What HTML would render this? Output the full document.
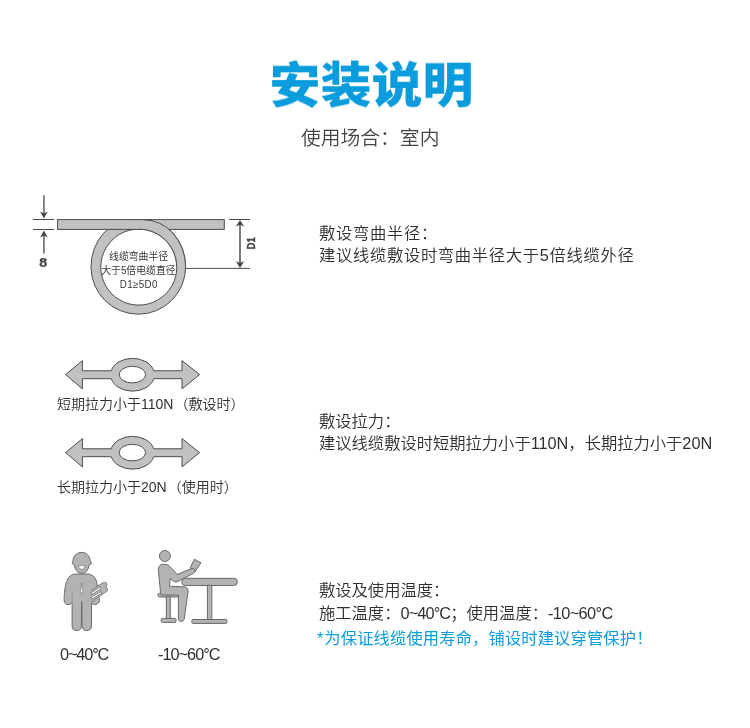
<!DOCTYPE html>
<html lang="zh-CN">
<head>
<meta charset="utf-8">
<title>安装说明</title>
<style>
html,body{margin:0;padding:0;background:#fff;}
body{width:750px;height:728px;position:relative;overflow:hidden;
  font-family:"Liberation Sans","Noto Sans CJK SC",sans-serif;color:#444;}
.abs{position:absolute;white-space:nowrap;will-change:transform;}
#title{left:0;width:742.8px;top:48.8px;text-align:center;font-size:50px;line-height:74px;font-weight:900;color:#0a9cdc;transform:scale(1.019,0.97);transform-origin:371.4px 35px;}
#sub{left:0;width:740.4px;top:122.7px;text-align:center;font-size:19.8px;line-height:30px;font-weight:350;color:#444;}
.blk{left:319px;font-size:16.3px;line-height:21.6px;font-weight:350;color:#303030;}
.lab{font-size:14px;line-height:20px;font-weight:350;color:#303030;}
.blue{color:#0a9cdc;}
svg{position:absolute;left:0;top:0;will-change:transform;}
svg text{font-family:"Liberation Sans","Noto Sans CJK SC",sans-serif;fill:#444;}
svg .rt text{font-size:10.6px;font-weight:400;fill:#383838;}
</style>
</head>
<body>
<div id="title" class="abs">安装说明</div>
<div id="sub" class="abs">使用场合：室内</div>

<div class="abs blk" style="top:222.8px;letter-spacing:0.7px">敷设弯曲半径：<br>建议线缆敷设时弯曲半径大于5倍线缆外径</div>
<div class="abs blk" style="top:410.8px">敷设拉力：<br>建议线缆敷设时短期拉力小于110N，长期拉力小于20N</div>
<div class="abs blk" style="top:579.2px;line-height:22.7px">敷设及使用温度：<br>施工温度：<span style="letter-spacing:-0.85px">0~40°C</span>；使用温度：<span style="letter-spacing:-0.6px">-10~60°C</span></div>
<div class="abs blk blue" style="top:627.7px;left:317px;font-weight:400;letter-spacing:0.13px"><span style="margin-right:0.9px">*</span>为保证线缆使用寿命，铺设时建议穿管保护！</div>

<div class="abs lab" style="left:57px;top:394px">短期拉力小于<span style="margin-right:1px">110N</span>（敷设时）</div>
<div class="abs lab" style="left:57px;top:477px">长期拉力小于<span style="margin-right:1px">20N</span>（使用时）</div>
<div class="abs lab" style="left:59.6px;top:644px;font-size:16.3px;letter-spacing:-1.12px">0~40°C</div>
<div class="abs lab" style="left:158px;top:644px;font-size:16.3px;letter-spacing:-0.98px">-10~60°C</div>

<svg width="750" height="728" viewBox="0 0 750 728">
 <!-- bending radius diagram -->
 <g fill="#c1c1c1" stroke="#4d4d4d" stroke-width="1">
  <path fill-rule="evenodd" d="M132.6 219.8H144A41.6 47.2 0 0 1 185.6 267A47.3 47.3 0 0 1 138.3 314.2A47.3 47.3 0 0 1 91 267A41.6 47.2 0 0 1 132.6 219.8zM138.8 229.1a38 38 0 1 1 -0.01 0z"/>
  <rect x="57.6" y="219.6" width="166.7" height="9.8"/>
  <path stroke="none" d="M139 220.2H144A41.6 47.2 0 0 1 185.6 267L176.8 267A38 38 0 0 0 139 229.1z"/>
  <path fill="none" d="M144 219.8A41.6 47.2 0 0 1 185.6 267M138.8 229.1A38 38 0 0 1 176.8 267"/>
 </g>
 <g stroke="#4d4d4d" stroke-width="1" fill="none">
  <path d="M33 219.5H54.3M33 229.5H54.3M229 219.5H250M186 268.4H250"/>
 </g>
 <g stroke="#6a6a6a" stroke-width="1.6" fill="none">
  <path d="M43.9 195.2V214M43.9 253.6V235"/>
 </g>
 <path stroke="#7a7a7a" stroke-width="2" fill="none" d="M240 224V264"/>
 <g fill="#444" stroke="none">
  <path d="M43.9 218.4L40.1 211.6L43.9 213.6L47.7 211.6z"/>
  <path d="M43.9 230.6L40.1 237.4L43.9 235.4L47.7 237.4z"/>
  <path d="M240 220L235.9 226.6L240 224.8L244.1 226.6z"/>
  <path d="M240 267.9L235.9 261.3L240 263.1L244.1 261.3z"/>
 </g>
 <text x="43.3" y="267.3" text-anchor="middle" style="font-family:'DejaVu Sans','Liberation Sans',sans-serif;font-weight:bold;font-size:12.9px">8</text>
 <text transform="translate(254.5 243.3) rotate(-90) scale(0.9 1)" text-anchor="middle" style="font-weight:bold;font-size:10.7px;stroke:#444;stroke-width:0.4px">D1</text>
 <g text-anchor="middle" class="rt">
  <text transform="translate(138.6 260.2) scale(0.93 1)">线缆弯曲半径</text>
  <text transform="translate(138.4 273.8) scale(0.93 1)">大于5倍电缆直径</text>
  <text transform="translate(138.8 288) scale(0.93 1)" style="letter-spacing:0.4px">D1≥5D0</text>
 </g>

 <!-- tension arrows -->
 <defs>
  <path id="pull" fill-rule="evenodd" d="M65.6 374.6L82.4 360.6V370.8H111.2A22 16.6 0 0 1 153.8 370.8H182V360.6L199.6 374.6L182 388.9V378.7H153.8A22 16.6 0 0 1 111.2 378.7H82.4V388.9zM119.2 374.6a13.2 8.3 0 1 0 26.4 0a13.2 8.3 0 1 0 -26.4 0z"/>
 </defs>
 <g fill="#c1c1c1" stroke="#4d4d4d" stroke-width="1" stroke-linejoin="miter">
  <use href="#pull"/>
  <use href="#pull" y="78"/>
 </g>

 <!-- worker figure -->
 <g fill="#b3b3b3" stroke="#6a6a6a" stroke-width="1" stroke-linejoin="round">
  <path d="M72.9 561.2A8.7 8.9 0 0 1 90.3 561.2L91.5 563.5L88.9 565.2A7.2 8.1 0 0 1 74.5 565.2L72.1 563.5z"/>
  <path d="M76.5 574C72.5 574 69.6 575.6 68 578.6C65.6 583.2 64.3 590.5 64.1 598.5C64 602.6 65.4 604.6 68 604.6C70 604.6 71.4 603.9 72.1 602.6V626C72.1 629 73.7 630.6 76.6 630.6C79.6 630.6 81.3 629 81.3 626L81.7 601.4L82.1 626C82.1 629 83.8 630.6 86.8 630.6C89.7 630.6 91.5 629 91.5 626V603C92.6 604.2 94.2 604.7 95.8 604.4C98 604 99.4 602.4 99.5 600.4L98.6 596L97.4 586C97 582.8 96.4 580.4 95.3 578.6C93.6 575.6 90.8 574 86.9 574z"/>
  <path fill="none" stroke="#8a8a8a" stroke-width="0.7" d="M72.2 590.5V602.6"/>
 </g>
 <g fill="none" stroke-linecap="round">
  <path stroke="#6a6a6a" stroke-width="5.7" d="M89.1 600.3L105 589.7M88.7 595.2L104.4 584.7"/>
  <path stroke="#b3b3b3" stroke-width="4.7" d="M89.1 600.3L105 589.7M88.7 595.2L104.4 584.7"/>
 </g>
 <path fill="#b3b3b3" d="M83 586H91.1V604H83z"/>
 <g stroke-linecap="butt" fill="none">
  <path stroke="#555" stroke-width="2.3" d="M91 594L100.9 587.3M91.4 598.4L101.5 592.2"/>
  <path stroke="#fff" stroke-width="1.3" d="M91.5 593.7L100.4 587.6M91.9 598.1L101 592.5"/>
 </g>
 <path fill="#fff" stroke="#6a6a6a" stroke-width="0.6" d="M78.4 565.6H85C84.8 567.8 83.5 569.3 81.7 569.3C79.9 569.3 78.6 567.8 78.4 565.6z"/>
 <path fill="#fff" stroke="#6a6a6a" stroke-width="0.6" d="M81.6 582.8L82.9 591.6L81.7 594L80.5 591.6z"/>

 <!-- sitting figure -->
 <g fill="#b3b3b3" stroke="#6a6a6a" stroke-width="1" stroke-linejoin="round">
  <circle cx="164.9" cy="556" r="5.5"/>
  <rect x="157.8" y="593.2" width="22" height="3.8" rx="1.9"/>
  <rect x="166.3" y="596.6" width="4" height="22.4"/>
  <rect x="161.2" y="618.4" width="14.8" height="4" rx="1"/>
  <rect x="181.8" y="578.3" width="55.6" height="7.2" rx="3.6"/>
  <rect x="207.4" y="585.2" width="4.4" height="34.8"/>
  <rect x="191.9" y="619.5" width="35" height="3.9" rx="1"/>
  <path d="M190.2 567.9L194.3 559.2L200.9 562.8L194.7 572.3z"/>
  <path d="M162.6 564.3C160 564.6 158.2 566.6 158.3 569.6L160.3 589.6C160.5 592.6 160.6 594.6 161.6 595H178.4V619C178.6 621.4 180.4 621.6 182.2 621.2C183.6 620.8 184.2 619.6 184.4 618L188 592C188.4 589 187 587 184.6 586.8L169.3 586.2L170.4 578.4C172.4 581 175.4 582.6 177.4 581.8L193.4 573.4C195 572.4 195.4 570.6 194.6 569.4C193.8 568.4 192.4 568.2 191 568.8L177.2 574.4L170.4 567C168.6 564.8 165.6 564 162.6 564.3z"/>
 </g>
</svg>
</body>
</html>
